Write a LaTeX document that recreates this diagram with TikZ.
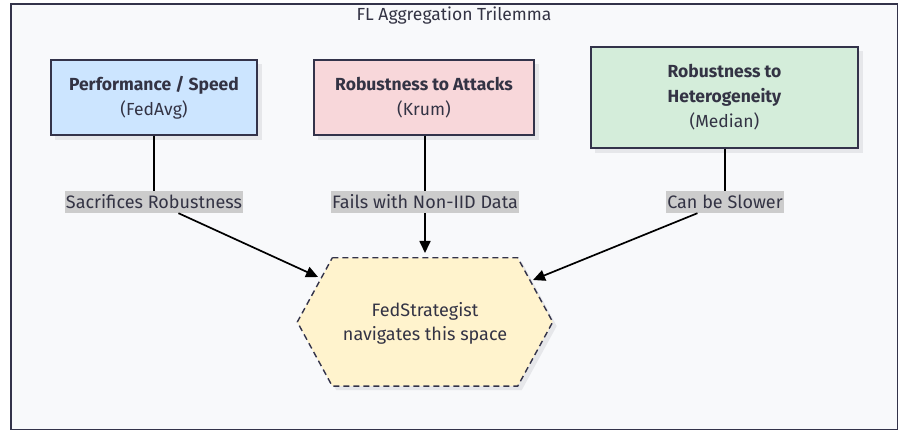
\documentclass[tikz,border=0pt]{standalone}
\usepackage{fontspec}
\setmainfont{Fira Sans}
\usetikzlibrary{arrows.meta,calc}
\definecolor{frameBg}{HTML}{F8F9FB}
\definecolor{frameLine}{HTML}{33334A}
\definecolor{txt}{HTML}{333344}
\definecolor{blueF}{HTML}{CCE5FF}
\definecolor{pinkF}{HTML}{F8D7DA}
\definecolor{greenF}{HTML}{D4EDDA}
\definecolor{yellowF}{HTML}{FFF3CD}
\definecolor{labBg}{HTML}{CCCCCC}
\definecolor{shadowC}{HTML}{E6E7EA}
\begin{document}
\begin{tikzpicture}[x=1pt,y=-1pt,
  font=\fontsize{18}{24}\selectfont, text=txt,
  boxnode/.style={draw=frameLine, line width=1.4pt, align=center, inner sep=0pt, text=txt,
    font=\fontsize{17.5}{25}\selectfont},
  edgelab/.style={fill=labBg, inner xsep=1pt, inner ysep=0pt, minimum height=22pt, text=txt},
  conn/.style={line width=1.7pt, black},
  arr/.style={conn, -{Triangle[length=12pt,width=11pt]}}]
\useasboundingbox (0,0) rectangle (900,430);
\fill[white] (0,0) rectangle (900,430);
\draw[fill=frameBg, draw=frameLine, line width=1.4pt] (11,4) rectangle (897.5,429.5);
\node[font=\fontsize{17.5}{20}\selectfont] (title) at (454,16) {FL Aggregation Trilemma};
% shadows
\fill[shadowC] (55,64) rectangle (262,140);
\fill[shadowC] (318,64) rectangle (539,140);
\fill[shadowC] (595,51) rectangle (863,153);
% boxes
\node[boxnode, fill=blueF, minimum width=206pt, minimum height=75pt] (b1) at (154,97.5)
  {\textbf{Performance / Speed}\\(FedAvg)};
\node[boxnode, fill=pinkF, minimum width=220pt, minimum height=75pt] (b2) at (424,97.5)
  {\textbf{Robustness to Attacks}\\(Krum)};
\node[boxnode, fill=greenF, minimum width=267pt, minimum height=101pt] (b3) at (724.5,97.5)
  {\textbf{Robustness to}\\\textbf{Heterogeneity}\\(Median)};
% hexagon
\node[minimum width=255pt, minimum height=128pt, inner sep=0pt] (hex) at (425,322) {};
\fill[shadowC] ($(hex.north west)+(39,4)$) -- ($(hex.north east)+(-31,4)$) -- ($(hex.east)+(4,4)$)
  -- ($(hex.south east)+(-31,4)$) -- ($(hex.south west)+(39,4)$) -- ($(hex.west)+(4,4)$) -- cycle;
\draw[fill=yellowF, draw=frameLine, line width=1.4pt, dash pattern=on 6pt off 4pt]
  ($(hex.north west)+(35,0)$) -- ($(hex.north east)+(-35,0)$) -- (hex.east)
  -- ($(hex.south east)+(-35,0)$) -- ($(hex.south west)+(35,0)$) -- (hex.west) -- cycle;
\node[align=center] (hext) at (425,323) {FedStrategist\\navigates this space};
% labels
\node[edgelab] (l1) at (154,202) {Sacrifices Robustness};
\node[edgelab] (l2) at (425,202) {Fails with Non-IID Data};
\node[edgelab] (l3) at (725,202) {Can be Slower};
% targets
\coordinate (t1) at (318,277);
\coordinate (t2) at (425,253);
\coordinate (t3) at (533,280);
% connectors
\draw[conn] (b1.south -| l1) -- (l1.north);
\draw[conn] (b2.south -| l2) -- (l2.north);
\draw[conn] (b3.south -| l3) -- (l3.north);
\draw[arr] (l1) -- (t1);
\draw[arr] (l2) -- (t2);
\draw[arr] (l3) -- (t3);
\end{tikzpicture}
\end{document}
